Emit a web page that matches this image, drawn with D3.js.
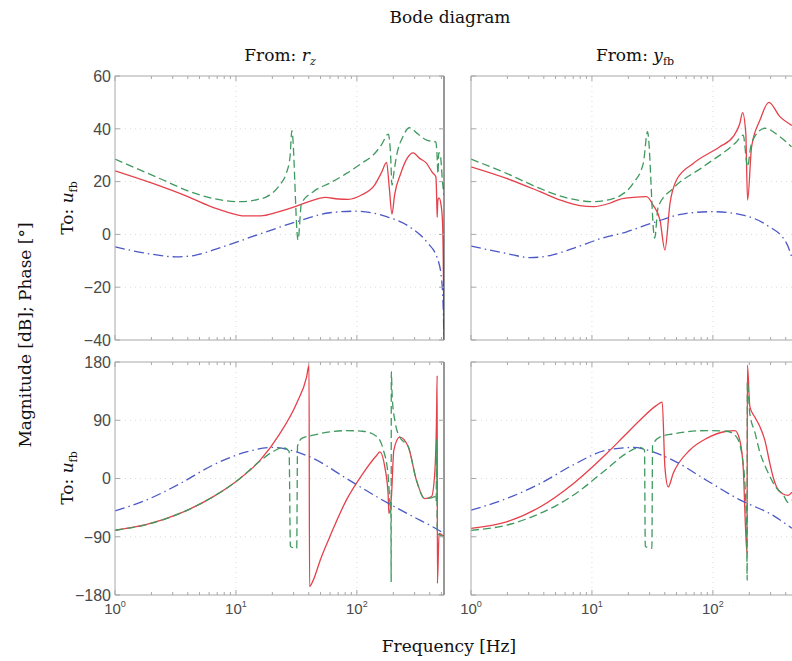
<!DOCTYPE html>
<html><head><meta charset="utf-8">
<script src="https://cdn.jsdelivr.net/npm/d3@7"></script>
<style>body{margin:0;background:#fff;overflow:hidden}svg{display:block;background:#fff}</style>
</head><body><svg id="c" width="792" height="661"></svg>
<script>
// ---------- data ----------
const freqDomain = [1, 525];
const freqTicks = [1, 10, 100];
const magDomain = [-40, 60];
const magTicks = [-40, -20, 0, 20, 40, 60];
const phaseDomain = [-180, 180];
const phaseTicks = [-180, -90, 0, 90, 180];

// From r_z -> u_fb, magnitude [dB]
const magRzRed = [[1,24.1],[2,19.5],[4,14.3],[6,10.8],[8,8.8],[12,7.0],[16,7.0],[22,8.4],[30,10.3],[40,12.4],[55,14.0],[70,13.4],[85,13.3],[110,15.0],[140,18.7],[160,23.5],[176,27.3],[185,18],[195,7.7],[205,15],[230,23],[260,28.8],[292,30.9],[330,28.8],[377,26.9],[420,23.5],[450,21.8],[456,15],[461,6.5],[467,13],[478,13.8],[495,11.5],[510,5],[518,-10],[525,-40]];
const magRzGreen = [[1,28.5],[2.5,20.6],[4,16.5],[6.5,13.6],[10.8,12.4],[15,13.2],[18,14.3],[23,18.7],[26,23],[28,29.4],[29,39.3],[32.6,-2.1],[34.8,11.7],[43.6,16.2],[60,19.5],[82,23.1],[110,27],[136,30],[160,34],[182,38],[190,30],[195,18.7],[203,24],[212,29.4],[240,37],[272,40.4],[320,38],[377,35.7],[450,35],[460,30],[468,23],[475,31],[490,30],[510,20],[525,15]];
const magRzBlue = [[1,-4.7],[2,-7.5],[3.2,-8.5],[4.5,-8],[6.5,-5.9],[10,-3],[16.8,0.6],[31.7,4.8],[59.7,8.2],[99,8.8],[176,6.7],[272,2.9],[377,-2.8],[468,-9.7],[502,-17.3],[515,-25],[525,-40]];

// From y_fb -> u_fb, magnitude [dB]
const magYfbRed = [[1,25.6],[1.97,21.2],[3.72,16.2],[5.5,13],[7.95,10.9],[10.3,10.5],[14,11.8],[17,13.3],[22,14],[28.3,14.3],[32,11.1],[36.5,5.5],[40.1,-5.9],[44.2,11.8],[50,20.6],[68.8,26.9],[114,33.2],[147,37],[167,42],[176,46.1],[187,38.3],[193.5,13],[209,33.2],[245,43.3],[290,50],[358,44.6],[450,41.3]];
const magYfbGreen = [[1,28.5],[1.97,23.1],[3.72,17.4],[6,14],[10.3,12.4],[14,13.2],[17,14.6],[22,19.4],[26.6,27],[28.8,38.9],[33,-1.4],[35.3,10.5],[47,17.5],[83,25.6],[157,35.1],[178,37.6],[193.5,25.6],[205,33],[214,35.8],[269,40.2],[358,37],[447,33.2]];
const magYfbBlue = [[1,-4.4],[2,-7.3],[3.07,-8.8],[4.5,-8],[7,-5.3],[12,-1.5],[19.4,1],[32,4.4],[60.6,8],[100,8.6],[177,7.3],[277,3.6],[407,-3.4],[447,-8.4]];

// From r_z -> u_fb, phase [deg]
const phRzRed = [[1,-80],[1.83,-71],[3.44,-54],[6.5,-28],[10.8,0],[15.8,28],[23,69],[31.7,116],[38.4,157],[40.2,175],[40.6,-167],[43.6,-157],[50,-125],[59.7,-90],[82,-33],[112,7.7],[146,36],[155,41],[170,18],[181,-23],[184,-54],[193,-28],[202,44],[226,64],[266,49],[311,-3],[364,-31],[414,-28],[440,8],[455,90],[461,159],[463,-162],[478,-85],[525,-90]];
const phRzGreen = [[1,-80],[1.83,-71],[3.44,-54],[6.5,-28],[10.8,0],[15.8,27],[20,41],[24.6,48],[27.5,42],[28.2,-105],[31.8,-108],[32.3,50],[35,62],[43.6,67],[60,72],[82,74],[112,73],[146,65],[165,45],[181,5],[188,-40],[191,-55],[192,-160],[192.5,165],[196,125],[208,85],[226,64],[266,49],[311,-3],[364,-31],[414,-30],[440,-28],[452,-35],[457,60],[462,-85],[525,-90]];
const phRzBlue = [[1,-50],[1.83,-33],[3.44,-8],[6.5,21],[12.2,41],[20.4,48],[31.7,41],[43.6,31],[82,0],[155,-31],[292,-59],[427,-75],[525,-85]];

// From y_fb -> u_fb, phase [deg]
const phYfbRed = [[1,-77],[1.97,-67],[3.72,-44],[7,-8],[13.3,39],[18.1,64],[24.9,90],[34.2,113],[38.1,118],[40.1,18],[42.7,-13],[47,8],[64.6,44],[88.9,62],[130,73],[152,74],[167,59],[178,18],[186,-75],[191.5,-116],[193,175],[202,111],[222,95],[245,80],[269,59],[296,23],[315,2],[336,-13],[381,-24],[419,-26],[450,-21]];
const phYfbGreen = [[1,-80],[1.97,-72],[3.72,-54],[7,-26],[13.3,15],[19.3,39],[24.9,48],[27.2,44],[27.6,-105],[31.3,-108],[31.7,51],[36.4,64],[47,69],[88.9,74],[130,73],[157,64],[178,23],[190,-75],[192,-157],[192.6,150],[202,100],[222,72],[245,40],[269,20],[296,3],[336,-15],[381,-25],[419,-37],[450,-33]];
const phYfbBlue = [[1,-49],[1.97,-31],[3.72,-8],[7,21],[13.3,44],[22,48],[32,41],[47,28],[89,-3],[167,-33],[314,-57],[450,-77]];

// ---------- layout ----------
const W = 792, H = 661;
const colX = [[115, 444], [471, 800]];
const magY = [76, 340];
const phY = [362, 595];
const styles = {
  red:   {color: "#e5414b", dash: null, width: 1.3},
  blue:  {color: "#4b58c6", dash: "10,4,1.5,4", width: 1.3},
  green: {color: "#3f9a5f", dash: "8,4", width: 1.3}
};
const serif = "'DejaVu Serif', 'Liberation Serif', serif";
const sans = "'Liberation Sans', Arial, sans-serif";

const svg = d3.select("#c");
svg.append("rect").attr("width", W).attr("height", H).attr("fill", "#fff");

let clipId = 0;
function drawPanel(xr, yr, yDomain, yTicks, series, showY, darkRight) {
  const x = d3.scaleLog().domain(freqDomain).range(xr);
  const y = d3.scaleLinear().domain(yDomain).range([yr[1], yr[0]]);
  const g = svg.append("g");
  const grid = g.append("g").attr("stroke", "#dcdcdc").attr("stroke-dasharray", "1,4").attr("stroke-width", 1);
  freqTicks.slice(1).forEach(t => grid.append("line").attr("x1", x(t)).attr("x2", x(t)).attr("y1", yr[0]).attr("y2", yr[1]));
  yTicks.slice(1, -1).forEach(t => grid.append("line").attr("x1", xr[0]).attr("x2", xr[1]).attr("y1", y(t)).attr("y2", y(t)));
  const id = "clip" + (clipId++);
  g.append("clipPath").attr("id", id).append("rect")
    .attr("x", xr[0]).attr("y", yr[0]).attr("width", xr[1] - xr[0]).attr("height", yr[1] - yr[0]);
  const line = d3.line().x(d => x(d[0])).y(d => y(d[1])).curve(d3.curveMonotoneX);
  const cg = g.append("g").attr("clip-path", `url(#${id})`);
  series.forEach(s => {
    const st = styles[s.style];
    cg.append("path").attr("d", line(s.data)).attr("fill", "none")
      .attr("stroke", st.color).attr("stroke-width", st.width)
      .attr("stroke-dasharray", st.dash).attr("stroke-linejoin", "round");
  });
  const fr = g.append("g").attr("stroke", "#a8a8a8").attr("stroke-width", 1).attr("fill", "none");
  fr.append("line").attr("x1", xr[0]).attr("x2", xr[1]).attr("y1", yr[0]).attr("y2", yr[0]);
  fr.append("line").attr("x1", xr[0]).attr("x2", xr[1]).attr("y1", yr[1]).attr("y2", yr[1]);
  fr.append("line").attr("x1", xr[0]).attr("x2", xr[0]).attr("y1", yr[0]).attr("y2", yr[1]);
  fr.append("line").attr("x1", xr[1]).attr("x2", xr[1]).attr("y1", yr[0]).attr("y2", yr[1])
    .attr("stroke", darkRight ? "#333" : "#a8a8a8");
  const minor = [];
  for (let k = 0; k <= 2; k++) for (let m = 1; m <= 9; m++) { const v = m * Math.pow(10, k); if (v <= freqDomain[1]) minor.push([v, m === 1]); }
  minor.forEach(([v, maj]) => {
    const L = maj ? 5 : 3;
    fr.append("line").attr("x1", x(v)).attr("x2", x(v)).attr("y1", yr[1]).attr("y2", yr[1] - L);
    fr.append("line").attr("x1", x(v)).attr("x2", x(v)).attr("y1", yr[0]).attr("y2", yr[0] + L);
  });
  yTicks.forEach(t => {
    fr.append("line").attr("x1", xr[0]).attr("x2", xr[0] + 5).attr("y1", y(t)).attr("y2", y(t));
    fr.append("line").attr("x1", xr[1]).attr("x2", xr[1] - 5).attr("y1", y(t)).attr("y2", y(t));
  });
  if (showY) {
    yTicks.forEach(t => {
      g.append("text").attr("x", xr[0] - 4).attr("y", y(t)).attr("dy", "0.36em")
        .attr("text-anchor", "end").attr("font-family", sans).attr("font-size", 16)
        .attr("fill", "#4a4a4a").text(t < 0 ? "\u2212" + Math.abs(t) : t);
    });
  }
  return x;
}

const magSeries = [
  [{style: "red", data: magRzRed}, {style: "blue", data: magRzBlue}, {style: "green", data: magRzGreen}],
  [{style: "red", data: magYfbRed}, {style: "blue", data: magYfbBlue}, {style: "green", data: magYfbGreen}]
];
const phSeries = [
  [{style: "red", data: phRzRed}, {style: "blue", data: phRzBlue}, {style: "green", data: phRzGreen}],
  [{style: "red", data: phYfbRed}, {style: "blue", data: phYfbBlue}, {style: "green", data: phYfbGreen}]
];

[0, 1].forEach(c => {
  drawPanel(colX[c], magY, magDomain, magTicks, magSeries[c], c === 0, c === 0);
  const x = drawPanel(colX[c], phY, phaseDomain, phaseTicks, phSeries[c], c === 0, c === 0);
  freqTicks.forEach((t, i) => {
    const tx = svg.append("text").attr("x", x(t)).attr("y", 614).attr("text-anchor", "middle")
      .attr("font-family", sans).attr("font-size", 15).attr("fill", "#4a4a4a");
    tx.append("tspan").text("10");
    tx.append("tspan").attr("dy", -7).attr("font-size", 9).text(String(i));
  });
});

// ---------- texts ----------
svg.append("text").attr("x", 450).attr("y", 23).attr("text-anchor", "middle")
  .attr("font-family", serif).attr("font-size", 17).attr("fill", "#111").text("Bode diagram");

function fromLabel(cx, sym, sub, subItalic) {
  const t = svg.append("text").attr("x", cx).attr("y", 61).attr("text-anchor", "middle")
    .attr("font-family", serif).attr("font-size", 17).attr("fill", "#111");
  t.append("tspan").text("From: ");
  t.append("tspan").attr("font-style", "italic").text(sym);
  t.append("tspan").attr("dy", 4).attr("font-size", 11).attr("font-style", subItalic ? "italic" : "normal").text(sub);
}
fromLabel(280, "r", "z", true);
fromLabel(635, "y", "fb", false);

function toLabel(cy) {
  const t = svg.append("text").attr("transform", `translate(73,${cy}) rotate(-90)`).attr("text-anchor", "middle")
    .attr("font-family", serif).attr("font-size", 17).attr("fill", "#111");
  t.append("tspan").text("To: ");
  t.append("tspan").attr("font-style", "italic").text("u");
  t.append("tspan").attr("dy", 4).attr("font-size", 11).text("fb");
}
toLabel(208);
toLabel(478);

svg.append("text").attr("transform", "translate(31,335) rotate(-90)").attr("text-anchor", "middle")
  .attr("font-family", serif).attr("font-size", 17).attr("fill", "#111").text("Magnitude [dB]; Phase [°]");

svg.append("text").attr("x", 449).attr("y", 652).attr("text-anchor", "middle")
  .attr("font-family", serif).attr("font-size", 17).attr("fill", "#111").text("Frequency [Hz]");
</script>
</body></html>
